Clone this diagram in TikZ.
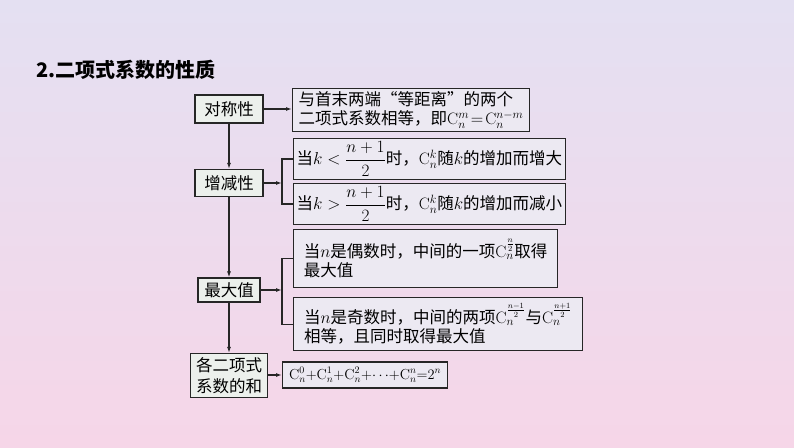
\documentclass[tikz,border=0pt]{standalone}
\usepackage{fontspec}
\usepackage{amsmath}
\newfontfamily\cjk{Noto Sans CJK SC}
\usetikzlibrary{arrows.meta}
\definecolor{boxfill}{RGB}{236,233,242}
\definecolor{lfill}{RGB}{236,240,236}
\tikzset{
  rbox/.style={draw=black!85,line width=1.2pt,fill=boxfill,anchor=north west,align=left,inner sep=3pt,font=\cjk\fontsize{16.5}{19}\selectfont},
  lbox/.style={draw=black!85,line width=1.2pt,fill=lfill,align=center,inner sep=2pt,font=\cjk\fontsize{16.5}{19}\selectfont},
  conn/.style={line width=1.2pt,black!85},
  arr/.style={conn,-{Latex[length=6pt,width=4pt]}}
}
\newcommand{\Cc}{\mathrm{C}}
\begin{document}
\begin{tikzpicture}[x=1pt,y=-1pt]
\shade[top color={rgb,255:red,228;green,224;blue,242},bottom color={rgb,255:red,246;green,214;blue,232}] (0,0) rectangle (794,447);
\useasboundingbox (0,0) rectangle (794,447);
\node[anchor=west,font=\cjk\bfseries\fontsize{20}{22}\selectfont] (title) at (33,70) {\textbf{2}.二项式系数的性质};
% left boxes
\node[lbox,minimum width=68,minimum height=28] (a) at (229,109) {对称性};
\node[lbox,minimum width=68,minimum height=27] (b) at (229,183) {增减性};
\node[lbox,minimum width=62,minimum height=24] (c) at (229,290) {最大值};
\node[lbox,minimum width=77,minimum height=44,inner sep=1pt,font=\cjk\fontsize{16.5}{21}\selectfont] (d) at (229,375.5) {各二项式\\系数的和};
% right boxes
\node[rbox,minimum width=237,minimum height=42] (r1) at (292,88) {与首末两端“等距离”的两个\\二项式系数相等，即$\Cc_n^m\!=\!\Cc_n^{n-m}$};
\node[rbox,minimum width=268,minimum height=38] (r2) at (293,138) {当$k<\dfrac{n+1}{2}$时，$\Cc_n^k$随$k$的增加而增大};
\node[rbox,minimum width=268,minimum height=39] (r3) at (293,183) {当$k>\dfrac{n+1}{2}$时，$\Cc_n^k$随$k$的增加而减小};
\node[rbox,minimum width=264,minimum height=58] (r4) at (293,229) {当$n$是偶数时，中间的一项$\Cc_n^{\frac{n}{2}}$取得\\最大值};
\node[rbox,minimum width=289,minimum height=53] (r5) at (293,297) {当$n$是奇数时，中间的两项$\Cc_n^{\frac{n-1}{2}}$与$\Cc_n^{\frac{n+1}{2}}$\\相等，且同时取得最大值};
\node[rbox,minimum width=165,minimum height=26,anchor=west,inner sep=2pt,font=\fontsize{14.5}{17}\selectfont] (r6) at (282,375) {$\Cc_n^0{+}\Cc_n^1{+}\Cc_n^2{+}{\cdots}{+}\Cc_n^n{=}2^n$};
% connectors
\draw[arr] (a) -- (b);
\draw[arr] (b) -- (c);
\draw[arr] (c) -- (d);
\draw[arr] (a) -- (r1.west |- a);
\coordinate (j1) at (282,183);
\coordinate (j2) at (282,290);
\draw[arr] (b) -- (j1);
\draw[arr] (c) -- (j2);
\draw[conn] (r2.west) -| (j1) |- (r3.west);
\draw[conn] (r4.west) -| (j2) |- (r5.west);
\draw[arr] (d.east |- r6) -- (r6);
\end{tikzpicture}
\end{document}
